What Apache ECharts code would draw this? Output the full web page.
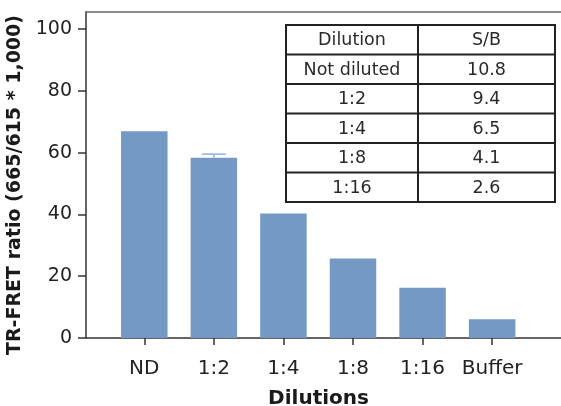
<!DOCTYPE html>
<html>
<head>
<meta charset="utf-8">
<script src="https://cdn.jsdelivr.net/npm/echarts@6/dist/echarts.min.js"></script>
<style>html,body{margin:0;padding:0;background:#fff}#c{width:561px;height:406px}</style>
</head>
<body>
<div id="c"></div>
<script>
var categories = ['ND', '1:2', '1:4', '1:8', '1:16', 'Buffer'];
var ratioValues = [66.9, 58.3, 40.3, 25.7, 16.3, 6.1];
var errorBars = [[2, 58.3, 59.5]]; // [category position, low, high]
var yTicks = [0, 20, 40, 60, 80, 100];
var tableHeader = ['Dilution', 'S/B'];
var tableDilutions = ['Not diluted', '1:2', '1:4', '1:8', '1:16'];
var tableSB = ['10.8', '9.4', '6.5', '4.1', '2.6'];

var FONT = 'DejaVu Sans';
var positions = categories.map(function (c, i) { return i + 1; });
var barData = ratioValues.map(function (v, i) { return [positions[i], v]; });

// Table graphic
var tx = 286, ty = 25, colW = [132, 137], rowH = 29.5;
var tableEls = [];
var tw = colW[0] + colW[1], th = rowH * (tableDilutions.length + 1);
tableEls.push({ type: 'rect', shape: { x: tx, y: ty, width: tw, height: th }, style: { fill: '#fff', stroke: '#222', lineWidth: 2 } });
tableEls.push({ type: 'line', shape: { x1: tx + colW[0], y1: ty, x2: tx + colW[0], y2: ty + th }, style: { stroke: '#222', lineWidth: 2 } });
for (var r = 1; r <= tableDilutions.length; r++) {
  tableEls.push({ type: 'line', shape: { x1: tx, y1: ty + r * rowH, x2: tx + tw, y2: ty + r * rowH }, style: { stroke: '#222', lineWidth: 2 } });
}
var rows = [tableHeader].concat(tableDilutions.map(function (d, i) { return [d, tableSB[i]]; }));
rows.forEach(function (row, ri) {
  row.forEach(function (txt, ci) {
    var cx = tx + (ci === 0 ? colW[0] / 2 : colW[0] + colW[1] / 2);
    tableEls.push({ type: 'text', x: cx, y: ty + ri * rowH + rowH / 2 + 1,
      style: { text: txt, font: '17.5px "' + FONT + '"', fill: '#2a2a2a', align: 'center', verticalAlign: 'middle' } });
  });
});

var chart = echarts.init(document.getElementById('c'));
chart.setOption({
  animation: false,
  grid: { left: 86, right: 0, top: 12, bottom: 68, containLabel: false, outerBoundsMode: 'none' },
  xAxis: [{
    type: 'value', min: 0.162, max: 6.99,
    splitLine: { show: false },
    axisLine: { show: true, lineStyle: { color: '#333', width: 1.5 } },
    axisTick: { show: true, length: 7, customValues: positions, lineStyle: { color: '#333', width: 1.5 } },
    axisLabel: { customValues: positions, margin: 21, fontFamily: FONT, fontSize: 20, color: '#222',
      formatter: function (v) { return categories[Math.round(v) - 1] || ''; } },
    name: 'Dilutions', nameLocation: 'middle', nameGap: 51,
    nameTextStyle: { fontFamily: FONT, fontWeight: 'bold', fontSize: 20, color: '#1a1a1a', padding: [0, 10, 0, 0] }
  }, {
    type: 'value', min: 0.162, max: 6.99, position: 'top',
    splitLine: { show: false },
    axisLine: { show: true, lineStyle: { color: '#666', width: 1.5 } },
    axisTick: { show: false }, axisLabel: { show: false }
  }],
  yAxis: {
    type: 'value', min: 0, max: 105.5,
    splitLine: { show: false },
    axisLine: { show: true, lineStyle: { color: '#333', width: 1.5 } },
    axisTick: { show: true, length: 8, customValues: yTicks, lineStyle: { color: '#333', width: 1.5 } },
    axisLabel: { customValues: yTicks, margin: 14, fontFamily: FONT, fontSize: 19, color: '#222' },
    name: 'TR-FRET ratio (665/615 * 1,000)', nameLocation: 'middle', nameGap: 47,
    nameTextStyle: { fontFamily: FONT, fontWeight: 'bold', fontSize: 19, color: '#1a1a1a', padding: [0, 20, 0, 0] }
  },
  series: [{
    type: 'bar', data: barData, barWidth: 46.5,
    itemStyle: { color: '#7499c5' }
  }, {
    type: 'custom', data: errorBars,
    renderItem: function (params, api) {
      var x = api.value(0);
      var lo = api.coord([x, api.value(1)]);
      var hi = api.coord([x, api.value(2)]);
      var hw = 12;
      return { type: 'group', children: [
        { type: 'line', shape: { x1: lo[0], y1: lo[1], x2: hi[0], y2: hi[1] }, style: { stroke: '#8fb0da', lineWidth: 1.5 } },
        { type: 'line', shape: { x1: hi[0] - hw, y1: hi[1], x2: hi[0] + hw, y2: hi[1] }, style: { stroke: '#8fb0da', lineWidth: 1.5 } }
      ] };
    },
    z: 3
  }],
  graphic: tableEls
});
</script>
</body>
</html>
